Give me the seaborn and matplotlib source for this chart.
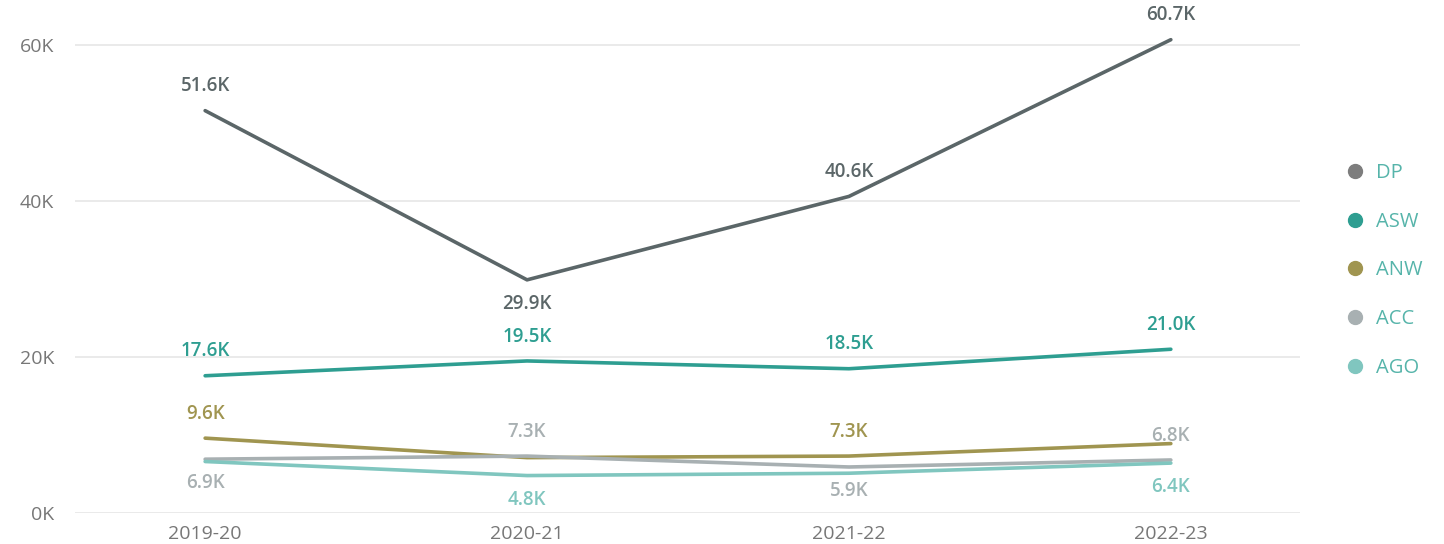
import matplotlib
matplotlib.use("Agg")
import matplotlib.pyplot as plt
from matplotlib.lines import Line2D
import pandas as pd
import seaborn as sns

years = ["2019-20", "2020-21", "2021-22", "2022-23"]
series = ["DP", "ASW", "ANW", "ACC", "AGO"]
dp = [51.6, 29.9, 40.6, 60.7]
asw = [17.6, 19.5, 18.5, 21.0]
anw = [9.6, 7.1, 7.3, 8.9]
acc = [6.9, 7.3, 5.9, 6.8]
ago = [6.6, 4.8, 5.1, 6.4]

# which labels power bi showed: 1 above, -1 below, 0 hidden
label_pos = {
    "DP": [1, -1, 1, 1],
    "ASW": [1, 1, 1, 1],
    "ANW": [1, 0, 1, 0],
    "ACC": [-1, 1, -1, 1],
    "AGO": [0, -1, 0, -1],
}

line_colors = {"DP": "#5b6668", "ASW": "#2e9e91", "ANW": "#a09550",
               "ACC": "#a8b0b2", "AGO": "#80c6bf"}
legend_colors = {"DP": "#7d7d7d", "ASW": "#2e9e91", "ANW": "#a09550",
                 "ACC": "#a8b0b2", "AGO": "#80c6bf"}

vals = {"DP": dp, "ASW": asw, "ANW": anw, "ACC": acc, "AGO": ago}
rows = []
for s in series:
    for i, y in enumerate(years):
        rows.append({"year": i, "series": s, "value": vals[s][i] * 1000})
df = pd.DataFrame(rows)

sns.set_theme(style="white")
plt.rcParams["font.family"] = ["Open Sans", "DejaVu Sans"]

fig = plt.figure(figsize=(14.44, 5.44), dpi=100)
ax = fig.add_axes([0.052, 0.057, 0.848, 0.903])

sns.lineplot(data=df, x="year", y="value", hue="series", hue_order=series,
             palette=line_colors, linewidth=2.6, legend=False, ax=ax,
             zorder=3)

for s in series:
    for i in range(len(years)):
        p = label_pos[s][i]
        if p == 0:
            continue
        ax.annotate(f"{vals[s][i]:.1f}K", (i, vals[s][i] * 1000),
                    xytext=(0, 17.5 * p), textcoords="offset points",
                    ha="center", va="center", fontsize=13.5,
                    color=line_colors[s], fontweight="semibold", zorder=5)

ax.set_xlim(-0.404, 3.4)
ax.set_ylim(0, 63000)
ax.set_xticks(range(len(years)))
ax.set_xticklabels(years)
ax.set_yticks([0, 20000, 40000, 60000])
ax.set_yticklabels(["0K", "20K", "40K", "60K"])
ax.set_xlabel("")
ax.set_ylabel("")
ax.tick_params(axis="both", colors="#777777", labelsize=14, length=0)
ax.tick_params(axis="y", pad=15)
ax.tick_params(axis="x", pad=9)
ax.grid(axis="y", color="#e6e6e6", linewidth=1.2)
ax.grid(axis="x", visible=False)
for sp in ax.spines.values():
    sp.set_visible(False)

handles = [Line2D([], [], marker="o", linestyle="", markersize=10,
                  color=legend_colors[s]) for s in series]
leg = fig.legend(handles, series, loc="center left",
                 bbox_to_anchor=(0.915, 0.503), frameon=False,
                 fontsize=14.5, labelspacing=1.42, handletextpad=0.2,
                 handlelength=1.6, labelcolor="#56b4aa")

fig.savefig("out.png", dpi=100)
